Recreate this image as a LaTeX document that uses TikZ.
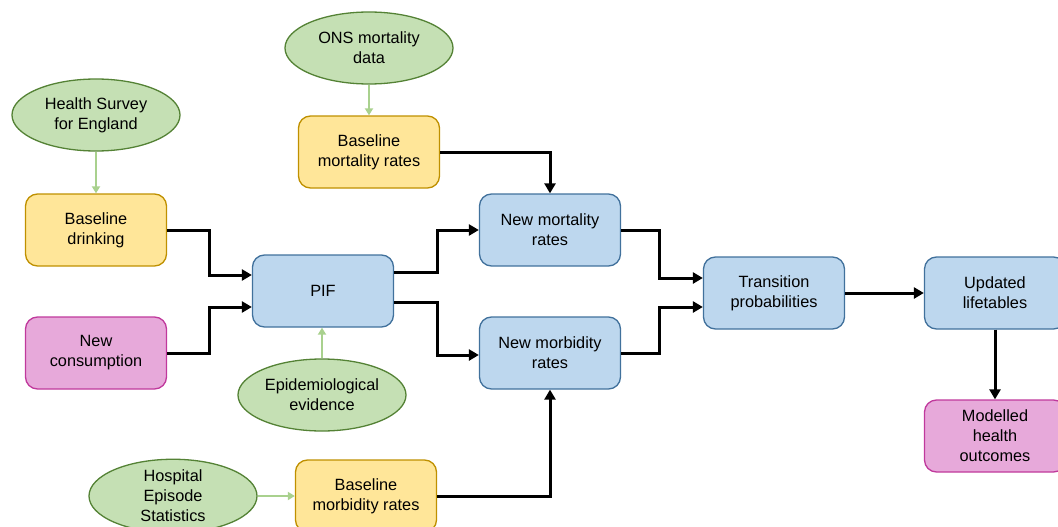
\documentclass[tikz,border=0pt]{standalone}
\usepackage{fontspec}
\setmainfont{Liberation Sans}
\usetikzlibrary{shapes.geometric,arrows.meta}
\definecolor{yfill}{HTML}{FFE699}
\definecolor{ydraw}{HTML}{BF9000}
\definecolor{bfill}{HTML}{BDD7EE}
\definecolor{bdraw}{HTML}{41719C}
\definecolor{pfill}{HTML}{E7A9DA}
\definecolor{pdraw}{HTML}{C0399C}
\definecolor{gfill}{HTML}{C5E0B4}
\definecolor{gdraw}{HTML}{548235}
\definecolor{garrow}{HTML}{A9D18E}
\tikzset{
  box/.style={rectangle, rounded corners=12pt, minimum width=141pt, minimum height=72pt, inner sep=2pt, align=center, line width=1.3pt, font=\fontsize{16.3pt}{20pt}\selectfont},
  ybox/.style={box, fill=yfill, draw=ydraw},
  bbox/.style={box, fill=bfill, draw=bdraw},
  pbox/.style={box, fill=pfill, draw=pdraw},
  src/.style={ellipse, minimum width=168pt, minimum height=72pt, inner sep=0pt, align=center, fill=gfill, draw=gdraw, line width=1.3pt, font=\fontsize{16.3pt}{20pt}\selectfont},
  garr/.style={draw=garrow, line width=2.4pt, -{Triangle[length=7pt,width=8pt]}},
  karr/.style={draw=black, line width=3pt, -{Triangle[length=10pt,width=11pt]}}
}
\begin{document}
\begin{tikzpicture}[x=1pt,y=-1pt]
\useasboundingbox (0,0) rectangle (1058,527);
% sources
\node[src] (ons) at (369,48) {ONS mortality\\data};
\node[src] (hse) at (96,115) {Health Survey\\for England};
\node[src] (epi) at (322,395) {Epidemiological\\evidence};
\node[src] (hes) at (173,496) {Hospital\\Episode\\Statistics};
% boxes
\node[ybox] (bmort) at (369,152) {Baseline\\mortality rates};
\node[ybox] (bdrink) at (96,230) {Baseline\\drinking};
\node[pbox] (ncons) at (96,353) {New\\consumption};
\node[bbox] (pif) at (323,291) {PIF};
\node[bbox] (nmort) at (550,230) {New mortality\\rates};
\node[bbox] (nmorb) at (550,353) {New morbidity\\rates};
\node[ybox] (bmorb) at (366,496) {Baseline\\morbidity rates};
\node[bbox] (trans) at (774,293) {Transition\\probabilities};
\node[bbox] (upd) at (995,293) {Updated\\lifetables};
\node[pbox] (mod) at (995,436) {Modelled\\health\\outcomes};
% green arrows
\draw[garr] (hse.south) -- (bdrink.north);
\draw[garr] (ons.south) -- (bmort.north);
\draw[garr] (epi.north) -- (epi.north |- pif.south);
\draw[garr] (hes.east) -- (bmorb.west);
% black connectors
\draw[karr] (bdrink.east) -- (209,230) |- ([yshift=16pt]pif.west);
\draw[karr] (ncons.east) -- (209,353) |- ([yshift=-16pt]pif.west);
\draw[karr] ([yshift=19pt]pif.east) -- (437,272) |- (nmort.west);
\draw[karr] ([yshift=-11pt]pif.east) -- (437,302) |- ([yshift=-2pt]nmorb.west);
\draw[karr] (bmort.east) -| (nmort.north);
\draw[karr] (bmorb.east) -| (nmorb.south);
\draw[karr] (nmort.east) -- (659,230) |- ([yshift=15pt]trans.west);
\draw[karr] (nmorb.east) -- (659,353) |- ([yshift=-14pt]trans.west);
\draw[karr] (trans.east) -- (upd.west);
\draw[karr] (upd.south) -- (mod.north);
\end{tikzpicture}
\end{document}
